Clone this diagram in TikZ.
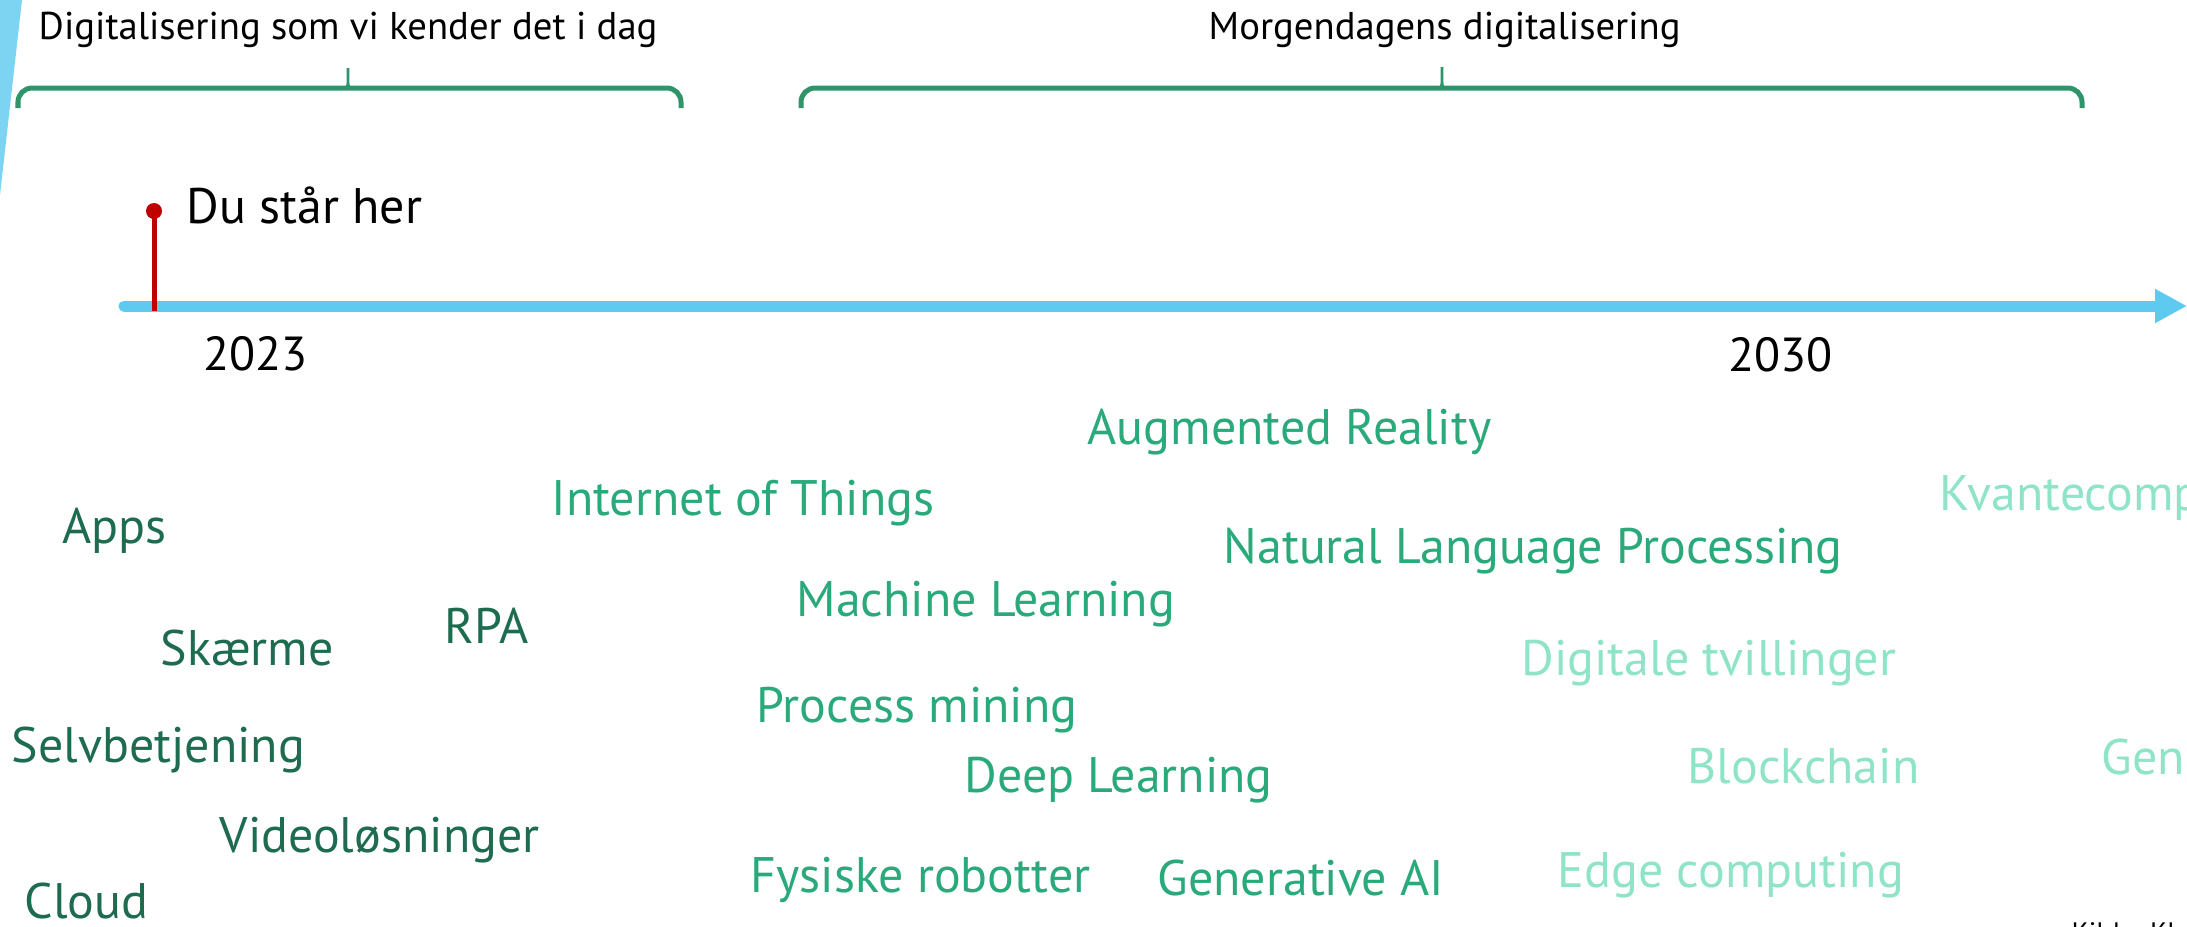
\documentclass[tikz,border=0pt]{standalone}
\usepackage{fontspec}
\setmainfont{PT Sans}
\usetikzlibrary{arrows.meta}
\definecolor{tlblue}{HTML}{5FCAEF}
\definecolor{wedgeblue}{HTML}{7CD3F2}
\definecolor{bracegreen}{HTML}{2E9469}
\definecolor{nowgreen}{HTML}{1E6C50}
\definecolor{midgreen}{HTML}{2AA97B}
\definecolor{futgreen}{HTML}{8FE4C8}
\definecolor{markred}{HTML}{C00000}
\tikzset{
  word/.style={anchor=base west, inner sep=0pt, font=\fontsize{14.2}{16}\selectfont},
  today/.style={word, text=nowgreen},
  soon/.style={word, text=midgreen},
  later/.style={word, text=futgreen},
  year/.style={anchor=base west, inner sep=0pt, font=\fontsize{13.6}{15}\selectfont},
  heading/.style={anchor=base west, inner sep=0pt, font=\fontsize{11}{12}\selectfont},
  bracket/.style={bracegreen, line width=5pt*0.2845, rounded corners=4pt},
}
\begin{document}
\begin{tikzpicture}[x=0.01cm, y=-0.01cm]
        \useasboundingbox (0,0) rectangle (2187,926);
        \clip (0,0) rectangle (2187,926);

        % blue wedge at the left edge
        \fill[wedgeblue] (0,0) -- (22,0) -- (0,195) -- cycle;

        % headings with their brackets
        \node[heading] (today) at (38,39) {Digitalisering som vi kender det i dag};
        \draw[bracket] (18,108) -- (18,88) -- (681,88) -- (681,108);
        \fill[bracegreen] (342,89) .. controls (347,87) .. (346.5,68) -- (349.5,68) .. controls (349,87) .. (354,89) -- cycle;

        \node[heading] (tomorrow) at (1208,39) {Morgendagens digitalisering};
        \draw[bracket] (801,108) -- (801,88) -- (2082,88) -- (2082,108);
        \fill[bracegreen] (1436,89) .. controls (1441,87) .. (1440.5,67) -- (1443.5,67) .. controls (1443,87) .. (1448,89) -- cycle;

        % time line
        \coordinate (start) at (124,306);
        \coordinate (end) at (2187,306);
        \draw[tlblue, line width=11pt*0.2845, line cap=round, -{Triangle[length=0.32cm, width=0.32cm]}] (start) -- (end);

        % you are here
        \coordinate (pin) at (154,311);
        \coordinate (head) at (154,211);
        \draw[markred, line width=5pt*0.2845] (pin) -- (head);
        \fill[markred] (head) circle (8);
        \node[word, text=black] (here) at (186,223) {Du står her};

        \node[year] (y2023) at (203,370) {2023};
        \node[year] (y2030) at (1728,371) {2030};

        % what we have today
        \node[today] (apps) at (62,543) {Apps};
        \node[today] (skaerme) at (160,665) {Skærme};
        \node[today] (rpa) at (444,643) {RPA};
        \node[today] (selv) at (11,762) {Selvbetjening};
        \node[today] (video) at (219,852) {Videoløsninger};
        \node[today] (cloud) at (24,918) {Cloud};

        % what comes next
        \node[soon] (ar) at (1087,444) {Augmented Reality};
        \node[soon] (iot) at (551,515) {Internet of Things};
        \node[soon] (nlp) at (1223,563) {Natural Language Processing};
        \node[soon] (ml) at (796,616) {Machine Learning};
        \node[soon] (pm) at (756,722) {Process mining};
        \node[soon] (dl) at (964,792) {Deep Learning};
        \node[soon] (robot) at (750,892) {Fysiske robotter};
        \node[soon] (genai) at (1157,895) {Generative AI};

        % further out
        \node[later] (kvante) at (1939,510) {Kvantecomp};
        \node[later] (twin) at (1521,675) {Digitale tvillinger};
        \node[later] (block) at (1687,783) {Blockchain};
        \node[later] (gen) at (2101,774) {Gen};
        \node[later] (edge) at (1557,887) {Edge computing};

        \node[anchor=north west, inner sep=0pt, font=\fontsize{8}{9}\selectfont] (source) at (2071,922) {Kilde: Kl};
\end{tikzpicture}
\end{document}
